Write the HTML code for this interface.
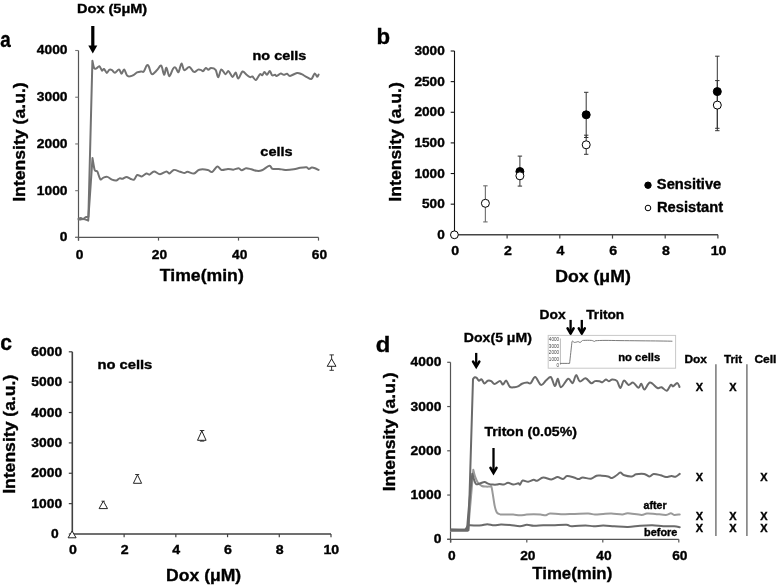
<!DOCTYPE html>
<html><head><meta charset="utf-8"><style>
html,body{margin:0;padding:0;background:#fff;}
svg{display:block;filter:grayscale(1);}
text{font-family:"Liberation Sans",sans-serif;font-weight:bold;stroke:#000;stroke-width:0.35px;}
text.nb{font-weight:normal;stroke:none;}
</style></head><body>
<svg width="777" height="586" viewBox="0 0 777 586">
<rect width="777" height="586" fill="#fff"/>
<line x1="78.5" y1="50.5" x2="78.5" y2="240.6" stroke="#555" stroke-width="1.2"/>
<line x1="75.2" y1="237.4" x2="318.5" y2="237.4" stroke="#555" stroke-width="1.2"/>
<line x1="75.2" y1="237.4" x2="78.5" y2="237.4" stroke="#777" stroke-width="1.1"/>
<line x1="75.2" y1="190.68" x2="78.5" y2="190.68" stroke="#777" stroke-width="1.1"/>
<line x1="75.2" y1="143.95" x2="78.5" y2="143.95" stroke="#777" stroke-width="1.1"/>
<line x1="75.2" y1="97.22" x2="78.5" y2="97.22" stroke="#777" stroke-width="1.1"/>
<line x1="75.2" y1="50.5" x2="78.5" y2="50.5" stroke="#777" stroke-width="1.1"/>
<line x1="78.5" y1="237.4" x2="78.5" y2="240.6" stroke="#555" stroke-width="1.2"/>
<line x1="158.5" y1="237.4" x2="158.5" y2="240.6" stroke="#555" stroke-width="1.2"/>
<line x1="238.5" y1="237.4" x2="238.5" y2="240.6" stroke="#555" stroke-width="1.2"/>
<line x1="318.5" y1="237.4" x2="318.5" y2="240.6" stroke="#555" stroke-width="1.2"/>
<text x="0.3" y="46.9" font-size="21.5" textLength="10.48" lengthAdjust="spacingAndGlyphs" fill="#000">a</text>
<text x="77.13" y="12.5" font-size="12.3" textLength="70.09" lengthAdjust="spacingAndGlyphs" fill="#000">Dox (5μM)</text>
<text x="59.87" y="241.3" font-size="12.3" textLength="7.69" lengthAdjust="spacingAndGlyphs" fill="#000">0</text>
<text x="36.79" y="194.58" font-size="12.3" textLength="30.78" lengthAdjust="spacingAndGlyphs" fill="#000">1000</text>
<text x="36.79" y="147.85" font-size="12.3" textLength="30.78" lengthAdjust="spacingAndGlyphs" fill="#000">2000</text>
<text x="36.79" y="101.12" font-size="12.3" textLength="30.78" lengthAdjust="spacingAndGlyphs" fill="#000">3000</text>
<text x="36.79" y="54.4" font-size="12.3" textLength="30.78" lengthAdjust="spacingAndGlyphs" fill="#000">4000</text>
<text x="75.69" y="259.4" font-size="13.1" textLength="7.65" lengthAdjust="spacingAndGlyphs" fill="#000">0</text>
<text x="151.89" y="259.4" font-size="13.1" textLength="15.3" lengthAdjust="spacingAndGlyphs" fill="#000">20</text>
<text x="232.03" y="259.4" font-size="13.1" textLength="15.3" lengthAdjust="spacingAndGlyphs" fill="#000">40</text>
<text x="311.88" y="259.4" font-size="13.1" textLength="15.3" lengthAdjust="spacingAndGlyphs" fill="#000">60</text>
<text x="159.8" y="280.5" font-size="16.8" textLength="83.97" lengthAdjust="spacingAndGlyphs" fill="#000">Time(min)</text>
<text x="252.55" y="59.7" font-size="12.2" textLength="53.74" lengthAdjust="spacingAndGlyphs" fill="#000">no cells</text>
<text x="260.33" y="155.5" font-size="12.3" textLength="32.26" lengthAdjust="spacingAndGlyphs" fill="#000">cells</text>
<text transform="translate(25.4,0) rotate(-90)" x="-201.88" y="0" font-size="16.8" textLength="119.56" lengthAdjust="spacingAndGlyphs" fill="#000">Intensity (a.u.)</text>
<rect x="91.2" y="26" width="3.2" height="20.5" fill="#000"/>
<polygon points="88.3,45.5 97.3,45.5 92.8,53.5" fill="#000"/>
<path d="M78.6,218.6 C78.97,218.48 80.07,217.8 80.8,217.9 C81.53,218 82.18,219.33 83,219.2 C83.82,219.07 84.8,217.53 85.7,217.1 C86.6,216.67 87.95,216.68 88.4,216.6 C89.07,190.63 91.73,86.77 92.4,60.8 C92.68,62 93.45,66.72 94.1,68 C94.75,69.28 95.42,68.78 96.3,68.5 C97.18,68.22 98.45,65.95 99.4,66.3 C100.35,66.65 101.23,70.15 102,70.6 C102.77,71.05 103.2,68.62 104,69 C104.8,69.38 105.93,72.77 106.8,72.9 C107.67,73.03 108.33,70.27 109.2,69.8 C110.07,69.33 111.05,69.62 112,70.1 C112.95,70.58 113.73,72.82 114.9,72.7 C116.07,72.58 117.88,69.23 119,69.4 C120.12,69.57 120.75,73.7 121.6,73.7 C122.45,73.7 123.17,69.07 124.1,69.4 C125.03,69.73 126.17,74.55 127.2,75.7 C128.23,76.85 129.27,76.38 130.3,76.3 C131.33,76.22 132.28,75.85 133.4,75.2 C134.52,74.55 135.72,73.03 137,72.4 C138.28,71.77 139.98,71.53 141.1,71.4 C142.22,71.27 142.75,72.6 143.7,71.6 C144.65,70.6 145.95,66.25 146.8,65.4 C147.65,64.55 147.95,65.03 148.8,66.5 C149.65,67.97 150.52,73.6 151.9,74.2 C153.28,74.8 155.55,71.53 157.1,70.1 C158.65,68.67 160.03,64.83 161.2,65.6 C162.37,66.37 163.23,74.35 164.1,74.7 C164.97,75.05 165.53,67.43 166.4,67.7 C167.27,67.97 168.22,76.08 169.3,76.3 C170.38,76.52 171.88,70.47 172.9,69 C173.92,67.53 174.47,66.98 175.4,67.5 C176.33,68.02 177.5,72.75 178.5,72.1 C179.5,71.45 180.45,63.93 181.4,63.6 C182.35,63.27 182.88,69.53 184.2,70.1 C185.52,70.67 187.67,66.7 189.3,67 C190.93,67.3 192.53,71.47 194,71.9 C195.47,72.33 196.9,69.9 198.1,69.6 C199.3,69.3 200.35,69.85 201.2,70.1 C202.05,70.35 202.43,71.45 203.2,71.1 C203.97,70.75 204.93,68.22 205.8,68 C206.67,67.78 207.53,69.8 208.4,69.8 C209.27,69.8 209.8,68 211,68 C212.2,68 214.4,68.25 215.6,69.8 C216.8,71.35 217.25,77.37 218.2,77.3 C219.15,77.23 220.1,69.92 221.3,69.4 C222.5,68.88 224.2,73.92 225.4,74.2 C226.6,74.48 227.3,70.63 228.5,71.1 C229.7,71.57 231.4,76.78 232.6,77 C233.8,77.22 234.77,72.13 235.7,72.4 C236.63,72.67 237.07,78.75 238.2,78.6 C239.33,78.45 241.1,72.13 242.5,71.5 C243.9,70.87 245.33,73.87 246.6,74.8 C247.87,75.73 249.13,76.82 250.1,77.1 C251.07,77.38 251.43,76.02 252.4,76.5 C253.37,76.98 254.65,80.38 255.9,80 C257.15,79.62 258.85,74.98 259.9,74.2 C260.95,73.42 261.43,75.68 262.2,75.3 C262.97,74.92 263.72,71.98 264.5,71.9 C265.28,71.82 266.02,74.95 266.9,74.8 C267.78,74.65 268.93,70.92 269.8,71 C270.67,71.08 271.23,74.67 272.1,75.3 C272.97,75.93 274.23,74.7 275,74.8 C275.77,74.9 275.73,76.1 276.7,75.9 C277.67,75.7 279.63,73.78 280.8,73.6 C281.97,73.42 282.65,74.77 283.7,74.8 C284.75,74.83 286.05,73.62 287.1,73.8 C288.15,73.98 288.35,76.03 290,75.9 C291.65,75.77 295.07,73.28 297,73 C298.93,72.72 299.97,73.52 301.6,74.2 C303.23,74.88 305.15,76.33 306.8,77.1 C308.45,77.87 310.18,79.42 311.5,78.8 C312.82,78.18 313.75,73.73 314.7,73.4 C315.65,73.07 316.55,76.62 317.2,76.8 C317.85,76.98 318.37,74.88 318.6,74.5" fill="none" stroke="#727272" stroke-width="2" stroke-linejoin="round" stroke-linecap="round"/>
<path d="M78.6,219.4 C78.97,219.43 80.07,219.7 80.8,219.6 C81.53,219.5 82.18,218.8 83,218.8 C83.82,218.8 84.83,219.3 85.7,219.6 C86.57,219.9 87.78,220.43 88.2,220.6 C88.92,210.18 91.78,168.52 92.5,158.1 C92.87,160.08 93.9,167.77 94.7,170 C95.5,172.23 96.37,169.97 97.3,171.5 C98.23,173.03 99.28,178.18 100.3,179.2 C101.32,180.22 102.23,177.98 103.4,177.6 C104.57,177.22 105.88,176.57 107.3,176.9 C108.72,177.23 110.37,179.02 111.9,179.6 C113.43,180.18 115.23,180.6 116.5,180.4 C117.77,180.2 118.48,178.68 119.5,178.4 C120.52,178.12 121.43,178.95 122.6,178.7 C123.77,178.45 125.22,176.9 126.5,176.9 C127.78,176.9 129.03,178.25 130.3,178.7 C131.57,179.15 132.95,180.22 134.1,179.6 C135.25,178.98 135.92,175.53 137.2,175 C138.48,174.47 140.27,176.65 141.8,176.4 C143.33,176.15 145.12,173.8 146.4,173.5 C147.68,173.2 148.22,174.93 149.5,174.6 C150.78,174.27 152.35,171.57 154.1,171.5 C155.85,171.43 157.95,174.22 160,174.2 C162.05,174.18 164.8,171.52 166.4,171.4 C168,171.28 168.37,173.75 169.6,173.5 C170.83,173.25 172.03,170.18 173.8,169.9 C175.57,169.62 178.43,171.27 180.2,171.8 C181.97,172.33 183.17,173.1 184.4,173.1 C185.63,173.1 186,171.73 187.6,171.8 C189.2,171.87 192.05,173.85 194,173.5 C195.95,173.15 197,170.3 199.3,169.7 C201.6,169.1 205.68,169.52 207.8,169.9 C209.92,170.28 210.42,172.57 212,172 C213.58,171.43 215.7,166.85 217.3,166.5 C218.9,166.15 219.82,169.5 221.6,169.9 C223.38,170.3 226.05,168.93 228,168.9 C229.95,168.87 231.53,169.82 233.3,169.7 C235.07,169.58 237.18,168.1 238.6,168.2 C240.02,168.3 240.57,170.3 241.8,170.3 C243.03,170.3 244.42,168.37 246,168.2 C247.58,168.03 249.53,168.87 251.3,169.3 C253.07,169.73 254.83,170.63 256.6,170.8 C258.37,170.97 259.77,171.15 261.9,170.3 C264.03,169.45 267.63,165.93 269.4,165.7 C271.17,165.47 270.92,168.37 272.5,168.9 C274.08,169.43 276.77,168.73 278.9,168.9 C281.03,169.07 282.82,169.83 285.3,169.9 C287.78,169.97 291.32,169.65 293.8,169.3 C296.28,168.95 298.08,168.15 300.2,167.8 C302.32,167.45 305.08,167.02 306.5,167.2 C307.92,167.38 307.82,168.83 308.7,168.9 C309.58,168.97 310.75,167.72 311.8,167.6 C312.85,167.48 313.87,167.82 315,168.2 C316.13,168.58 318,169.62 318.6,169.9" fill="none" stroke="#727272" stroke-width="2" stroke-linejoin="round" stroke-linecap="round"/>
<line x1="454.5" y1="51" x2="454.5" y2="234.8" stroke="#111" stroke-width="1.1"/>
<line x1="454.5" y1="234.8" x2="718" y2="234.8" stroke="#444" stroke-width="1.5"/>
<line x1="450.7" y1="234.8" x2="454.5" y2="234.8" stroke="#111" stroke-width="1.1"/>
<line x1="450.7" y1="204.17" x2="454.5" y2="204.17" stroke="#111" stroke-width="1.1"/>
<line x1="450.7" y1="173.53" x2="454.5" y2="173.53" stroke="#111" stroke-width="1.1"/>
<line x1="450.7" y1="142.9" x2="454.5" y2="142.9" stroke="#111" stroke-width="1.1"/>
<line x1="450.7" y1="112.27" x2="454.5" y2="112.27" stroke="#111" stroke-width="1.1"/>
<line x1="450.7" y1="81.63" x2="454.5" y2="81.63" stroke="#111" stroke-width="1.1"/>
<line x1="450.7" y1="51" x2="454.5" y2="51" stroke="#111" stroke-width="1.1"/>
<line x1="454.4" y1="234.8" x2="454.4" y2="238.6" stroke="#444" stroke-width="1.2"/>
<line x1="507.1" y1="234.8" x2="507.1" y2="238.6" stroke="#444" stroke-width="1.2"/>
<line x1="559.8" y1="234.8" x2="559.8" y2="238.6" stroke="#444" stroke-width="1.2"/>
<line x1="612.5" y1="234.8" x2="612.5" y2="238.6" stroke="#444" stroke-width="1.2"/>
<line x1="665.2" y1="234.8" x2="665.2" y2="238.6" stroke="#444" stroke-width="1.2"/>
<line x1="717.9" y1="234.8" x2="717.9" y2="238.6" stroke="#444" stroke-width="1.2"/>
<text x="376.43" y="44.3" font-size="21.5" textLength="13.58" lengthAdjust="spacingAndGlyphs" fill="#000">b</text>
<text x="437.18" y="239" font-size="12.3" textLength="7.58" lengthAdjust="spacingAndGlyphs" fill="#000">0</text>
<text x="422.02" y="208.37" font-size="12.3" textLength="22.74" lengthAdjust="spacingAndGlyphs" fill="#000">500</text>
<text x="414.44" y="177.73" font-size="12.3" textLength="30.32" lengthAdjust="spacingAndGlyphs" fill="#000">1000</text>
<text x="414.44" y="147.1" font-size="12.3" textLength="30.32" lengthAdjust="spacingAndGlyphs" fill="#000">1500</text>
<text x="414.44" y="116.47" font-size="12.3" textLength="30.32" lengthAdjust="spacingAndGlyphs" fill="#000">2000</text>
<text x="414.44" y="85.83" font-size="12.3" textLength="30.32" lengthAdjust="spacingAndGlyphs" fill="#000">2500</text>
<text x="414.44" y="55.2" font-size="12.3" textLength="30.32" lengthAdjust="spacingAndGlyphs" fill="#000">3000</text>
<text x="451.26" y="255.3" font-size="12.9" textLength="7.89" lengthAdjust="spacingAndGlyphs" fill="#000">0</text>
<text x="503.99" y="255.3" font-size="12.9" textLength="7.89" lengthAdjust="spacingAndGlyphs" fill="#000">2</text>
<text x="556.58" y="255.3" font-size="12.9" textLength="7.89" lengthAdjust="spacingAndGlyphs" fill="#000">4</text>
<text x="609.35" y="255.3" font-size="12.9" textLength="7.89" lengthAdjust="spacingAndGlyphs" fill="#000">6</text>
<text x="662.05" y="255.3" font-size="12.9" textLength="7.89" lengthAdjust="spacingAndGlyphs" fill="#000">8</text>
<text x="710.65" y="255.3" font-size="12.9" textLength="15.78" lengthAdjust="spacingAndGlyphs" fill="#000">10</text>
<text x="555.22" y="281.5" font-size="16.8" textLength="75.56" lengthAdjust="spacingAndGlyphs" fill="#000">Dox (μM)</text>
<text transform="translate(401.2,0) rotate(-90)" x="-201.68" y="0" font-size="16.8" textLength="119.56" lengthAdjust="spacingAndGlyphs" fill="#000">Intensity (a.u.)</text>
<line x1="485.4" y1="185.8" x2="485.4" y2="221.9" stroke="#777" stroke-width="1.2"/>
<line x1="483.2" y1="185.8" x2="487.6" y2="185.8" stroke="#777" stroke-width="1.2"/>
<line x1="483.2" y1="221.9" x2="487.6" y2="221.9" stroke="#777" stroke-width="1.2"/>
<line x1="519.9" y1="156.1" x2="519.9" y2="186.1" stroke="#333" stroke-width="1"/>
<line x1="517.7" y1="156.1" x2="522.1" y2="156.1" stroke="#333" stroke-width="1"/>
<line x1="517.7" y1="186.1" x2="522.1" y2="186.1" stroke="#333" stroke-width="1"/>
<line x1="586.2" y1="92.3" x2="586.2" y2="137.5" stroke="#333" stroke-width="1"/>
<line x1="584" y1="92.3" x2="588.4" y2="92.3" stroke="#333" stroke-width="1"/>
<line x1="584" y1="137.5" x2="588.4" y2="137.5" stroke="#333" stroke-width="1"/>
<line x1="586.2" y1="135.2" x2="586.2" y2="154.3" stroke="#333" stroke-width="1"/>
<line x1="584" y1="135.2" x2="588.4" y2="135.2" stroke="#333" stroke-width="1"/>
<line x1="584" y1="154.3" x2="588.4" y2="154.3" stroke="#333" stroke-width="1"/>
<line x1="717.3" y1="56.2" x2="717.3" y2="128.3" stroke="#333" stroke-width="1"/>
<line x1="715.1" y1="56.2" x2="719.5" y2="56.2" stroke="#333" stroke-width="1"/>
<line x1="715.1" y1="128.3" x2="719.5" y2="128.3" stroke="#333" stroke-width="1"/>
<line x1="717.3" y1="80.6" x2="717.3" y2="130.7" stroke="#333" stroke-width="1"/>
<line x1="715.1" y1="80.6" x2="719.5" y2="80.6" stroke="#333" stroke-width="1"/>
<line x1="715.1" y1="130.7" x2="719.5" y2="130.7" stroke="#333" stroke-width="1"/>
<circle cx="519.9" cy="171.5" r="4" fill="#000" stroke="#000" stroke-width="1"/>
<circle cx="586.2" cy="114.8" r="4" fill="#000" stroke="#000" stroke-width="1"/>
<circle cx="717.3" cy="91.6" r="4" fill="#000" stroke="#000" stroke-width="1"/>
<circle cx="454.4" cy="234.8" r="3.9" fill="#fff" stroke="#000" stroke-width="1"/>
<circle cx="485.4" cy="203.3" r="4" fill="#fff" stroke="#000" stroke-width="1"/>
<circle cx="519.9" cy="175.8" r="4" fill="#fff" stroke="#000" stroke-width="1"/>
<circle cx="586.2" cy="144.8" r="4" fill="#fff" stroke="#000" stroke-width="1"/>
<circle cx="717.3" cy="105.1" r="4" fill="#fff" stroke="#000" stroke-width="1"/>
<circle cx="648" cy="185.2" r="3.2" fill="#000" stroke="#000" stroke-width="1"/>
<circle cx="648" cy="208" r="2.8" fill="#fff" stroke="#000" stroke-width="1"/>
<text x="656.88" y="188.6" font-size="13.8" textLength="64.32" lengthAdjust="spacingAndGlyphs" fill="#000">Sensitive</text>
<text x="657.02" y="211.6" font-size="13.8" textLength="66.06" lengthAdjust="spacingAndGlyphs" fill="#000">Resistant</text>
<line x1="72.3" y1="351.8" x2="72.3" y2="534" stroke="#404040" stroke-width="1.6"/>
<line x1="72.3" y1="534" x2="331" y2="534" stroke="#404040" stroke-width="1.6"/>
<line x1="68.8" y1="534" x2="72.3" y2="534" stroke="#404040" stroke-width="1.2"/>
<line x1="68.8" y1="503.63" x2="72.3" y2="503.63" stroke="#404040" stroke-width="1.2"/>
<line x1="68.8" y1="473.27" x2="72.3" y2="473.27" stroke="#404040" stroke-width="1.2"/>
<line x1="68.8" y1="442.9" x2="72.3" y2="442.9" stroke="#404040" stroke-width="1.2"/>
<line x1="68.8" y1="412.53" x2="72.3" y2="412.53" stroke="#404040" stroke-width="1.2"/>
<line x1="68.8" y1="382.17" x2="72.3" y2="382.17" stroke="#404040" stroke-width="1.2"/>
<line x1="68.8" y1="351.8" x2="72.3" y2="351.8" stroke="#404040" stroke-width="1.2"/>
<line x1="72.4" y1="534" x2="72.4" y2="537.2" stroke="#404040" stroke-width="1.2"/>
<line x1="124.12" y1="534" x2="124.12" y2="537.2" stroke="#404040" stroke-width="1.2"/>
<line x1="175.84" y1="534" x2="175.84" y2="537.2" stroke="#404040" stroke-width="1.2"/>
<line x1="227.56" y1="534" x2="227.56" y2="537.2" stroke="#404040" stroke-width="1.2"/>
<line x1="279.28" y1="534" x2="279.28" y2="537.2" stroke="#404040" stroke-width="1.2"/>
<line x1="331" y1="534" x2="331" y2="537.2" stroke="#404040" stroke-width="1.2"/>
<text x="0.18" y="350.3" font-size="21.5" textLength="11.74" lengthAdjust="spacingAndGlyphs" fill="#000">c</text>
<text x="51.07" y="538.1" font-size="12.3" textLength="7.69" lengthAdjust="spacingAndGlyphs" fill="#000">0</text>
<text x="31.39" y="507.73" font-size="12.3" textLength="30.78" lengthAdjust="spacingAndGlyphs" fill="#000">1000</text>
<text x="31.39" y="477.37" font-size="12.3" textLength="30.78" lengthAdjust="spacingAndGlyphs" fill="#000">2000</text>
<text x="31.39" y="447" font-size="12.3" textLength="30.78" lengthAdjust="spacingAndGlyphs" fill="#000">3000</text>
<text x="31.39" y="416.63" font-size="12.3" textLength="30.78" lengthAdjust="spacingAndGlyphs" fill="#000">4000</text>
<text x="31.39" y="386.27" font-size="12.3" textLength="30.78" lengthAdjust="spacingAndGlyphs" fill="#000">5000</text>
<text x="31.39" y="355.9" font-size="12.3" textLength="30.78" lengthAdjust="spacingAndGlyphs" fill="#000">6000</text>
<text x="68.96" y="554" font-size="12.9" textLength="7.89" lengthAdjust="spacingAndGlyphs" fill="#000">0</text>
<text x="120.71" y="554" font-size="12.9" textLength="7.89" lengthAdjust="spacingAndGlyphs" fill="#000">2</text>
<text x="172.32" y="554" font-size="12.9" textLength="7.89" lengthAdjust="spacingAndGlyphs" fill="#000">4</text>
<text x="224.11" y="554" font-size="12.9" textLength="7.89" lengthAdjust="spacingAndGlyphs" fill="#000">6</text>
<text x="275.83" y="554" font-size="12.9" textLength="7.89" lengthAdjust="spacingAndGlyphs" fill="#000">8</text>
<text x="323.45" y="554" font-size="12.9" textLength="15.78" lengthAdjust="spacingAndGlyphs" fill="#000">10</text>
<text x="166.13" y="580.6" font-size="16.8" textLength="75.05" lengthAdjust="spacingAndGlyphs" fill="#000">Dox (μM)</text>
<text x="97.43" y="368.8" font-size="12.3" textLength="54.88" lengthAdjust="spacingAndGlyphs" fill="#000">no cells</text>
<text transform="translate(14.9,0) rotate(-90)" x="-493.88" y="0" font-size="16.8" textLength="119.15" lengthAdjust="spacingAndGlyphs" fill="#000">Intensity (a.u.)</text>
<line x1="331.6" y1="354.9" x2="331.6" y2="370.3" stroke="#333" stroke-width="1"/>
<line x1="329.5" y1="354.9" x2="333.9" y2="354.9" stroke="#333" stroke-width="1"/>
<line x1="329.5" y1="370.3" x2="333.9" y2="370.3" stroke="#333" stroke-width="1"/>
<line x1="201.8" y1="430.5" x2="201.8" y2="441.1" stroke="#333" stroke-width="1"/>
<line x1="199.8" y1="430.5" x2="204.3" y2="430.5" stroke="#333" stroke-width="1"/>
<line x1="199.8" y1="441.1" x2="204.3" y2="441.1" stroke="#333" stroke-width="1"/>
<line x1="135.2" y1="474.5" x2="139.2" y2="474.5" stroke="#333" stroke-width="1"/>
<line x1="101.5" y1="501.2" x2="104.8" y2="501.2" stroke="#333" stroke-width="1"/>
<polygon points="72.1,531 68.1,537.8 76.1,537.8" fill="#fff" stroke="#222" stroke-width="1"/>
<polygon points="103.3,501 99.1,508.6 107.5,508.6" fill="#fff" stroke="#222" stroke-width="1"/>
<polygon points="137.5,474.8 133.4,483.3 141.6,483.3" fill="#fff" stroke="#222" stroke-width="1"/>
<polygon points="201.8,430.9 197.5,440.3 206.1,440.3" fill="#fff" stroke="#222" stroke-width="1"/>
<polygon points="331.6,358.8 327.2,366.3 336,366.3" fill="#fff" stroke="#222" stroke-width="1"/>
<line x1="450.5" y1="362.3" x2="450.5" y2="542.6" stroke="#555" stroke-width="1.2"/>
<line x1="447.2" y1="539.3" x2="678.8" y2="539.3" stroke="#555" stroke-width="1.2"/>
<line x1="447.2" y1="539.3" x2="450.5" y2="539.3" stroke="#555" stroke-width="1.2"/>
<line x1="447.2" y1="495.05" x2="450.5" y2="495.05" stroke="#555" stroke-width="1.2"/>
<line x1="447.2" y1="450.8" x2="450.5" y2="450.8" stroke="#555" stroke-width="1.2"/>
<line x1="447.2" y1="406.55" x2="450.5" y2="406.55" stroke="#555" stroke-width="1.2"/>
<line x1="447.2" y1="362.3" x2="450.5" y2="362.3" stroke="#555" stroke-width="1.2"/>
<line x1="450.8" y1="539.3" x2="450.8" y2="542.6" stroke="#555" stroke-width="1.2"/>
<line x1="526.8" y1="539.3" x2="526.8" y2="542.6" stroke="#555" stroke-width="1.2"/>
<line x1="602.8" y1="539.3" x2="602.8" y2="542.6" stroke="#555" stroke-width="1.2"/>
<line x1="678.8" y1="539.3" x2="678.8" y2="542.6" stroke="#555" stroke-width="1.2"/>
<text x="375.82" y="352.1" font-size="21.5" textLength="14.55" lengthAdjust="spacingAndGlyphs" fill="#000">d</text>
<text x="433.67" y="543.3" font-size="12.3" textLength="7.69" lengthAdjust="spacingAndGlyphs" fill="#000">0</text>
<text x="410.59" y="499.05" font-size="12.3" textLength="30.78" lengthAdjust="spacingAndGlyphs" fill="#000">1000</text>
<text x="410.59" y="454.8" font-size="12.3" textLength="30.78" lengthAdjust="spacingAndGlyphs" fill="#000">2000</text>
<text x="410.59" y="410.55" font-size="12.3" textLength="30.78" lengthAdjust="spacingAndGlyphs" fill="#000">3000</text>
<text x="410.59" y="366.3" font-size="12.3" textLength="30.78" lengthAdjust="spacingAndGlyphs" fill="#000">4000</text>
<text x="447.99" y="560" font-size="13.1" textLength="7.65" lengthAdjust="spacingAndGlyphs" fill="#000">0</text>
<text x="520.19" y="560" font-size="13.1" textLength="15.3" lengthAdjust="spacingAndGlyphs" fill="#000">20</text>
<text x="596.33" y="560" font-size="13.1" textLength="15.3" lengthAdjust="spacingAndGlyphs" fill="#000">40</text>
<text x="672.18" y="560" font-size="13.1" textLength="15.3" lengthAdjust="spacingAndGlyphs" fill="#000">60</text>
<text x="532.31" y="579.3" font-size="16.8" textLength="79.92" lengthAdjust="spacingAndGlyphs" fill="#000">Time(min)</text>
<text transform="translate(395,0) rotate(-90)" x="-491.27" y="0" font-size="16.8" textLength="118.95" lengthAdjust="spacingAndGlyphs" fill="#000">Intensity (a.u.)</text>
<text x="463.86" y="341.8" font-size="13.3" textLength="68.04" lengthAdjust="spacingAndGlyphs" fill="#000">Dox(5 μM)</text>
<line x1="476.2" y1="352.9" x2="476.2" y2="366.7" stroke="#000" stroke-width="2.3"/>
<polyline points="473.1,361.6 476.2,366.7 479.3,361.6" fill="none" stroke="#000" stroke-width="2.6" stroke-linejoin="miter" stroke-miterlimit="10" stroke-linecap="round"/>
<text x="484.44" y="436" font-size="13.5" textLength="92.45" lengthAdjust="spacingAndGlyphs" fill="#000">Triton (0.05%)</text>
<line x1="493.5" y1="448" x2="493.5" y2="472.85" stroke="#000" stroke-width="2.3"/>
<polyline points="490.5,467.8 493.5,472.85 496.5,467.8" fill="none" stroke="#000" stroke-width="2.6" stroke-linejoin="miter" stroke-miterlimit="10" stroke-linecap="round"/>
<text x="539.57" y="319.3" font-size="12.9" textLength="26.13" lengthAdjust="spacingAndGlyphs" fill="#000">Dox</text>
<text x="586.25" y="319.3" font-size="12.9" textLength="37.88" lengthAdjust="spacingAndGlyphs" fill="#000">Triton</text>
<line x1="570.6" y1="319.9" x2="570.6" y2="333.49" stroke="#000" stroke-width="2.3"/>
<polyline points="567.6,328.3 570.6,333.49 573.6,328.3" fill="none" stroke="#000" stroke-width="2.6" stroke-linejoin="miter" stroke-miterlimit="10" stroke-linecap="round"/>
<line x1="581.8" y1="319.9" x2="581.8" y2="333.49" stroke="#000" stroke-width="2.3"/>
<polyline points="578.8,328.3 581.8,333.49 584.8,328.3" fill="none" stroke="#000" stroke-width="2.6" stroke-linejoin="miter" stroke-miterlimit="10" stroke-linecap="round"/>
<rect x="548.2" y="335.4" width="127.4" height="32.8" fill="#fff" stroke="#c8c8c8" stroke-width="1"/>
<line x1="560.4" y1="338.5" x2="560.4" y2="364.9" stroke="#aaa" stroke-width="0.8"/>
<text x="548.87" y="341" font-size="5.4" textLength="10.21" lengthAdjust="spacingAndGlyphs" fill="#444" class="nb">4000</text>
<text x="548.87" y="347.7" font-size="5.4" textLength="10.21" lengthAdjust="spacingAndGlyphs" fill="#444" class="nb">3000</text>
<text x="548.87" y="353.9" font-size="5.4" textLength="10.21" lengthAdjust="spacingAndGlyphs" fill="#444" class="nb">2000</text>
<text x="548.87" y="360.9" font-size="5.4" textLength="10.21" lengthAdjust="spacingAndGlyphs" fill="#444" class="nb">1000</text>
<text x="556.53" y="367" font-size="5.4" textLength="2.55" lengthAdjust="spacingAndGlyphs" fill="#444" class="nb">0</text>
<path d="M560.4,363.4 C561.93,363.4 568.07,363.4 569.6,363.4 C570,359.73 571.6,345.07 572,341.4 C572.13,341.37 572.42,341.03 572.8,341.2 C573.18,341.37 573.65,342.27 574.3,342.4 C574.95,342.53 576.05,342.13 576.7,342 C577.35,341.87 577.63,341.52 578.2,341.6 C578.77,341.68 579.45,342.63 580.1,342.5 C580.75,342.37 581.52,341.15 582.1,340.8 C582.68,340.45 582.07,340.47 583.6,340.4 C585.13,340.33 589.5,340.23 591.3,340.4 C593.1,340.57 593.62,341.35 594.4,341.4 C595.18,341.45 594.23,340.87 596,340.7 C597.77,340.53 601,340.42 605,340.4 C609,340.38 614.17,340.53 620,340.6 C625.83,340.67 633.33,340.73 640,340.8 C646.67,340.87 654.67,340.93 660,341 C665.33,341.07 670,341.17 672,341.2" fill="none" stroke="#6a6a6a" stroke-width="0.9" stroke-linejoin="round" stroke-linecap="round"/>
<text x="618.26" y="361.4" font-size="10.3" textLength="41.9" lengthAdjust="spacingAndGlyphs" fill="#000">no cells</text>
<path d="M451,531 C453.75,531 464.75,531 467.5,531 C467.63,530.55 468.17,528.75 468.3,528.3 C469.13,518.55 472.47,479.55 473.3,469.8 C473.58,470.9 474.25,474.28 475,476.4 C475.75,478.52 476.65,480.9 477.8,482.5 C478.95,484.1 480.53,485.32 481.9,486 C483.27,486.68 484.75,486.5 486,486.6 C487.25,486.7 488.5,486.6 489.4,486.6 C490.3,486.6 490.83,485.33 491.4,486.6 C491.97,487.87 492.23,490.9 492.8,494.2 C493.37,497.5 494.12,503.33 494.8,506.4 C495.48,509.47 495.98,511.27 496.9,512.6 C497.82,513.93 498.72,514.08 500.3,514.4 C501.88,514.72 504.25,514.48 506.4,514.5 C508.55,514.52 510.93,514.37 513.2,514.5 C515.47,514.63 517.73,515.28 520,515.3 C522.27,515.32 524.52,514.77 526.8,514.6 C529.08,514.43 531.42,514.3 533.7,514.3 C535.98,514.3 538.47,514.43 540.5,514.6 C542.53,514.77 544.32,515.48 545.9,515.3 C547.48,515.12 547.48,513.67 550,513.5 C552.52,513.33 556.9,514.23 561,514.3 C565.1,514.37 570.05,514.03 574.6,513.9 C579.15,513.77 584.9,513.38 588.3,513.5 C591.7,513.62 592.52,514.53 595,514.6 C597.48,514.67 600.47,514.08 603.2,513.9 C605.93,513.72 608.22,513.42 611.4,513.5 C614.58,513.58 619.57,514.43 622.3,514.4 C625.03,514.37 624.62,513.22 627.8,513.3 C630.98,513.38 638.22,514.87 641.4,514.9 C644.58,514.93 644.62,513.67 646.9,513.5 C649.18,513.33 651.92,513.67 655.1,513.9 C658.28,514.13 663.38,515 666,514.9 C668.62,514.8 669.43,513.3 670.8,513.3 C672.17,513.3 672.72,514.72 674.2,514.9 C675.68,515.08 678.78,514.48 679.7,514.4" fill="none" stroke="#9a9a9a" stroke-width="2" stroke-linejoin="round" stroke-linecap="round"/>
<path d="M451,529.8 C453.37,529.8 462.83,529.8 465.2,529.8 C465.72,529.02 467.78,525.88 468.3,525.1 C468.52,525.13 468.25,525.22 469.6,525.3 C470.95,525.38 474.35,525.6 476.4,525.6 C478.45,525.6 480.08,525.53 481.9,525.3 C483.72,525.07 485.25,524.2 487.3,524.2 C489.35,524.2 491.92,525.25 494.2,525.3 C496.48,525.35 498.37,524.55 501,524.5 C503.63,524.45 506.83,524.72 510,525 C513.17,525.28 517.2,526.23 520,526.2 C522.8,526.17 524.52,524.87 526.8,524.8 C529.08,524.73 530.97,525.72 533.7,525.8 C536.43,525.88 540.02,525.38 543.2,525.3 C546.38,525.22 548.93,525.38 552.8,525.3 C556.67,525.22 563.22,524.65 566.4,524.8 C569.58,524.95 568.72,526.08 571.9,526.2 C575.08,526.32 581.87,525.5 585.5,525.5 C589.13,525.5 590.75,526.18 593.7,526.2 C596.65,526.22 599.8,525.6 603.2,525.6 C606.6,525.6 610,525.98 614.1,526.2 C618.2,526.42 623.47,526.97 627.8,526.9 C632.13,526.83 636,526.07 640.1,525.8 C644.2,525.53 648.53,525.23 652.4,525.3 C656.27,525.37 659.67,526.05 663.3,526.2 C666.93,526.35 671.47,526.03 674.2,526.2 C676.93,526.37 678.78,527.03 679.7,527.2" fill="none" stroke="#6a6a6a" stroke-width="2" stroke-linejoin="round" stroke-linecap="round"/>
<path d="M451,529.6 C453.67,529.63 464.33,529.77 467,529.8 C467.42,524.83 468.62,509.35 469.5,500 C470.38,490.65 471.83,478.08 472.3,473.7 C472.63,474.83 473.62,478.73 474.3,480.5 C474.98,482.27 475.37,483.85 476.4,484.3 C477.43,484.75 479.13,483.57 480.5,483.2 C481.87,482.83 483.23,481.98 484.6,482.1 C485.97,482.22 487.33,483.48 488.7,483.9 C490.07,484.32 491.43,484.48 492.8,484.6 C494.17,484.72 495.77,484.72 496.9,484.6 C498.03,484.48 498.47,483.9 499.6,483.9 C500.73,483.9 502.28,484.78 503.7,484.6 C505.12,484.42 506.52,482.8 508.1,482.8 C509.68,482.8 511.5,484.52 513.2,484.6 C514.9,484.68 517.17,483.3 518.3,483.3 C519.43,483.3 519.27,485.07 520,484.6 C520.73,484.13 521.33,480.97 522.7,480.5 C524.07,480.03 526.37,481.92 528.2,481.8 C530.03,481.68 532.22,479.97 533.7,479.8 C535.18,479.63 535.52,481.18 537.1,480.8 C538.68,480.42 540.82,477.73 543.2,477.5 C545.58,477.27 549.02,479.47 551.4,479.4 C553.78,479.33 555.57,477.15 557.5,477.1 C559.43,477.05 561.4,479.27 563,479.1 C564.6,478.93 565.28,476.37 567.1,476.1 C568.92,475.83 571.97,477 573.9,477.5 C575.83,478 577.22,479.1 578.7,479.1 C580.18,479.1 580.75,477.55 582.8,477.5 C584.85,477.45 588.72,479.1 591,478.8 C593.28,478.5 594.7,476.22 596.5,475.7 C598.3,475.18 599.88,475.58 601.8,475.7 C603.72,475.82 606.28,476.02 608,476.4 C609.72,476.78 610.62,478.23 612.1,478 C613.58,477.77 615.53,475.9 616.9,475 C618.27,474.1 619.05,472.55 620.3,472.6 C621.55,472.65 622.47,474.67 624.4,475.3 C626.33,475.93 629.97,476.57 631.9,476.4 C633.83,476.23 633.95,474.72 636,474.3 C638.05,473.88 641.93,473.55 644.2,473.9 C646.47,474.25 648.02,476.4 649.6,476.4 C651.18,476.4 651.87,474.08 653.7,473.9 C655.53,473.72 658.55,474.77 660.6,475.3 C662.65,475.83 664.18,476.97 666,477.1 C667.82,477.23 669.9,476.17 671.5,476.1 C673.1,476.03 674.23,477.07 675.6,476.7 C676.97,476.33 679.02,474.37 679.7,473.9" fill="none" stroke="#6a6a6a" stroke-width="2" stroke-linejoin="round" stroke-linecap="round"/>
<path d="M451,530.2 C453.92,530.2 465.58,530.2 468.5,530.2 C469.25,505.02 472.25,404.28 473,379.1 C473.3,378.8 474.17,377.48 474.8,377.3 C475.43,377.12 476.12,377.43 476.8,378 C477.48,378.57 478.1,380.48 478.9,380.7 C479.7,380.92 480.68,378.85 481.6,379.3 C482.52,379.75 483.37,383.17 484.4,383.4 C485.43,383.63 486.67,381.08 487.8,380.7 C488.93,380.32 490.07,380.53 491.2,381.1 C492.33,381.67 493.13,384.13 494.6,384.1 C496.07,384.07 498.62,380.82 500,380.9 C501.38,380.98 501.87,384.65 502.9,384.6 C503.93,384.55 505.03,380.22 506.2,380.6 C507.37,380.98 508.52,385.8 509.9,386.9 C511.28,388 513.05,387.33 514.5,387.2 C515.95,387.07 517.35,386.68 518.6,386.1 C519.85,385.52 520.57,384.28 522,383.7 C523.43,383.12 525.75,382.68 527.2,382.6 C528.65,382.52 529.37,384.12 530.7,383.2 C532.03,382.28 533.48,376.82 535.2,377.1 C536.92,377.38 539.17,384.37 541,384.9 C542.83,385.43 544.55,381.6 546.2,380.3 C547.85,379 549.45,376.13 550.9,377.1 C552.35,378.07 553.75,385.82 554.9,386.1 C556.05,386.38 556.78,378.62 557.8,378.8 C558.82,378.98 559.27,387.2 561,387.2 C562.73,387.2 566.27,379.47 568.2,378.8 C570.13,378.13 571.28,383.82 572.6,383.2 C573.92,382.58 574.9,375.4 576.1,375.1 C577.3,374.8 578.22,380.87 579.8,381.4 C581.38,381.93 583.7,378 585.6,378.3 C587.5,378.6 589.65,382.73 591.2,383.2 C592.75,383.67 593.52,381.43 594.9,381.1 C596.28,380.77 598.25,381.02 599.5,381.2 C600.75,381.38 601.33,382.48 602.4,382.2 C603.47,381.92 604.83,379.67 605.9,379.5 C606.97,379.33 607.75,381.2 608.8,381.2 C609.85,381.2 610.85,379.55 612.2,379.5 C613.55,379.45 615.53,379.48 616.9,380.9 C618.27,382.32 619.23,388.05 620.4,388 C621.57,387.95 622.55,381.12 623.9,380.6 C625.25,380.08 626.95,384.57 628.5,384.9 C630.05,385.23 631.55,382.12 633.2,382.6 C634.85,383.08 637.05,387.62 638.4,387.8 C639.75,387.98 640.28,383.42 641.3,383.7 C642.32,383.98 643.05,389.68 644.5,389.5 C645.95,389.32 647.83,382.85 650,382.6 C652.17,382.35 655.58,387.23 657.5,388 C659.42,388.77 659.95,386.75 661.5,387.2 C663.05,387.65 665.25,391.08 666.8,390.7 C668.35,390.32 669.75,385.62 670.8,384.9 C671.85,384.18 672.03,386.73 673.1,386.4 C674.17,386.07 676.13,382.82 677.2,382.9 C678.27,382.98 679.12,386.23 679.5,386.9" fill="none" stroke="#6a6a6a" stroke-width="2" stroke-linejoin="round" stroke-linecap="round"/>
<text x="643.59" y="508.5" font-size="10" textLength="22.97" lengthAdjust="spacingAndGlyphs" fill="#000">after</text>
<text x="644.08" y="536.2" font-size="10" textLength="33.29" lengthAdjust="spacingAndGlyphs" fill="#000">before</text>
<text x="684.4" y="362.5" font-size="10.5" textLength="22.48" lengthAdjust="spacingAndGlyphs" fill="#000">Dox</text>
<text x="723.97" y="362.5" font-size="10.5" textLength="18.06" lengthAdjust="spacingAndGlyphs" fill="#000">Trit</text>
<text x="754.41" y="362.5" font-size="10.5" textLength="22.04" lengthAdjust="spacingAndGlyphs" fill="#000">Cell</text>
<line x1="715.9" y1="364.3" x2="715.9" y2="535.9" stroke="#777" stroke-width="1.5"/>
<line x1="746.9" y1="364.3" x2="746.9" y2="535.9" stroke="#777" stroke-width="1.5"/>
<text x="695.83" y="391.4" font-size="11" textLength="7.34" lengthAdjust="spacingAndGlyphs" fill="#000">X</text>
<text x="729.33" y="391.4" font-size="11" textLength="7.34" lengthAdjust="spacingAndGlyphs" fill="#000">X</text>
<text x="695.83" y="481.1" font-size="11" textLength="7.34" lengthAdjust="spacingAndGlyphs" fill="#000">X</text>
<text x="760.23" y="481.1" font-size="11" textLength="7.34" lengthAdjust="spacingAndGlyphs" fill="#000">X</text>
<text x="695.83" y="519.6" font-size="11" textLength="7.34" lengthAdjust="spacingAndGlyphs" fill="#000">X</text>
<text x="729.33" y="519.6" font-size="11" textLength="7.34" lengthAdjust="spacingAndGlyphs" fill="#000">X</text>
<text x="760.23" y="519.6" font-size="11" textLength="7.34" lengthAdjust="spacingAndGlyphs" fill="#000">X</text>
<text x="695.83" y="531.8" font-size="11" textLength="7.34" lengthAdjust="spacingAndGlyphs" fill="#000">X</text>
<text x="729.33" y="531.8" font-size="11" textLength="7.34" lengthAdjust="spacingAndGlyphs" fill="#000">X</text>
<text x="760.23" y="531.8" font-size="11" textLength="7.34" lengthAdjust="spacingAndGlyphs" fill="#000">X</text>
</svg>
</body></html>
